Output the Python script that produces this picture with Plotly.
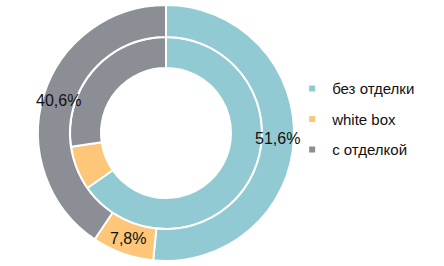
import math
import plotly.graph_objects as go

categories = ["без отделки", "white box", "с отделкой"]
outer_values = [51.6, 7.8, 40.6]
inner_values = [65.3, 7.4, 27.3]
colors = ["#92CAD3", "#FEC679", "#8B8F95"]

outer_text = [f"{v:.1f}".replace(".", ",") + "%" for v in outer_values]

W, H = 444, 266
cx, cy = 166, 133
r_out, r_mid, r_in = 128, 96, 65

def dom(r):
    return dict(x=[(cx - r) / W, (cx + r) / W], y=[(H - cy - r) / H, (H - cy + r) / H])

fig = go.Figure()
fig.add_trace(go.Pie(
    labels=categories, values=inner_values, textinfo="none",
    hole=r_in / r_mid, domain=dom(r_mid), sort=False, direction="clockwise",
    rotation=0, showlegend=False, hoverinfo="label+value",
    marker=dict(colors=colors, line=dict(color="white", width=2)),
))
fig.add_trace(go.Pie(
    labels=categories, values=outer_values, textinfo="none",
    hole=r_mid / r_out, domain=dom(r_out), sort=False, direction="clockwise",
    rotation=0, showlegend=False, hoverinfo="label+value",
    marker=dict(colors=colors, line=dict(color="white", width=2)),
))
for name, c in zip(categories, colors):
    fig.add_trace(go.Scatter(
        x=[None], y=[None], mode="markers", name=name, legendgroup=name,
        marker=dict(symbol="square", size=6, color=c),
    ))

# percentage labels centred in the outer ring at each slice's mid-angle
total = sum(outer_values)
r_lab = (r_out + r_mid) / 2
cum = 0.0
annotations = []
for v, t in zip(outer_values, outer_text):
    theta = math.radians((cum + v / 2) / total * 360)
    cum += v
    annotations.append(dict(
        x=(cx + r_lab * math.sin(theta)) / W,
        y=(H - cy + r_lab * math.cos(theta)) / H,
        xref="paper", yref="paper", text=t, showarrow=False,
        xanchor="center", yanchor="middle",
        font=dict(family="Liberation Sans, Arial", size=16, color="#111111"),
    ))

fig.update_layout(
    width=W, height=H, margin=dict(l=0, r=0, t=0, b=0),
    paper_bgcolor="white", plot_bgcolor="white",
    xaxis=dict(visible=False), yaxis=dict(visible=False),
    annotations=annotations,
    legend=dict(x=0.658, y=0.552, xanchor="left", yanchor="middle",
                font=dict(family="Liberation Sans, Arial", size=15, color="#111111"),
                tracegroupgap=8, itemwidth=30, bgcolor="rgba(0,0,0,0)"),
    font=dict(family="Liberation Sans, Arial"),
)
fig.write_html("out.html")
